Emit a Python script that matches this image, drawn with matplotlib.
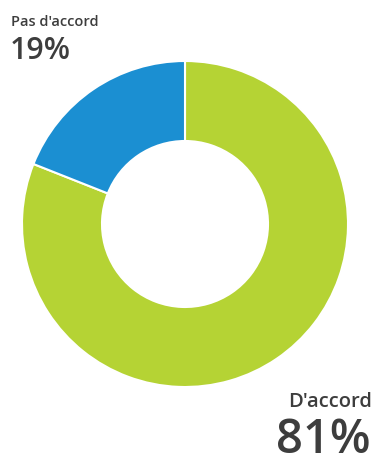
import matplotlib
matplotlib.use("Agg")
import matplotlib.pyplot as plt

labels = ["D'accord", "Pas d'accord"]
shares = [81, 19]
colors = ["#b5d334", "#1b8fd2"]

W, H = 376, 460
fig = plt.figure(figsize=(W / 100, H / 100), dpi=100)
ax = fig.add_axes([0, 0, 1, 1])
ax.set_xlim(0, W)
ax.set_ylim(0, H)
ax.set_aspect("equal")
ax.axis("off")

ax.pie(shares, colors=colors, startangle=90, counterclock=False,
       center=(185, H - 225), radius=163,
       wedgeprops=dict(width=80, edgecolor="white", linewidth=1.5))
ax.set_xlim(0, W)
ax.set_ylim(0, H)

txt = "#3d3d3d"
font = "Open Sans"
# small label + big percentage, top-left for the minority answer
ax.text(11, H - 26, labels[1], fontsize=10.5, family=font, weight="semibold",
        color=txt, ha="left", va="baseline")
ax.text(10, H - 59, f"{shares[1]}%", fontsize=22, family=font, weight="semibold",
        color=txt, ha="left", va="baseline")
# bottom-right for the majority answer
ax.text(372, H - 407, labels[0], fontsize=14.5, family=font, weight="semibold",
        color=txt, ha="right", va="baseline")
ax.text(371, H - 453, f"{shares[0]}%", fontsize=34, family=font, weight="semibold",
        color=txt, ha="right", va="baseline")

fig.savefig("out.png", dpi=100, facecolor="white")
